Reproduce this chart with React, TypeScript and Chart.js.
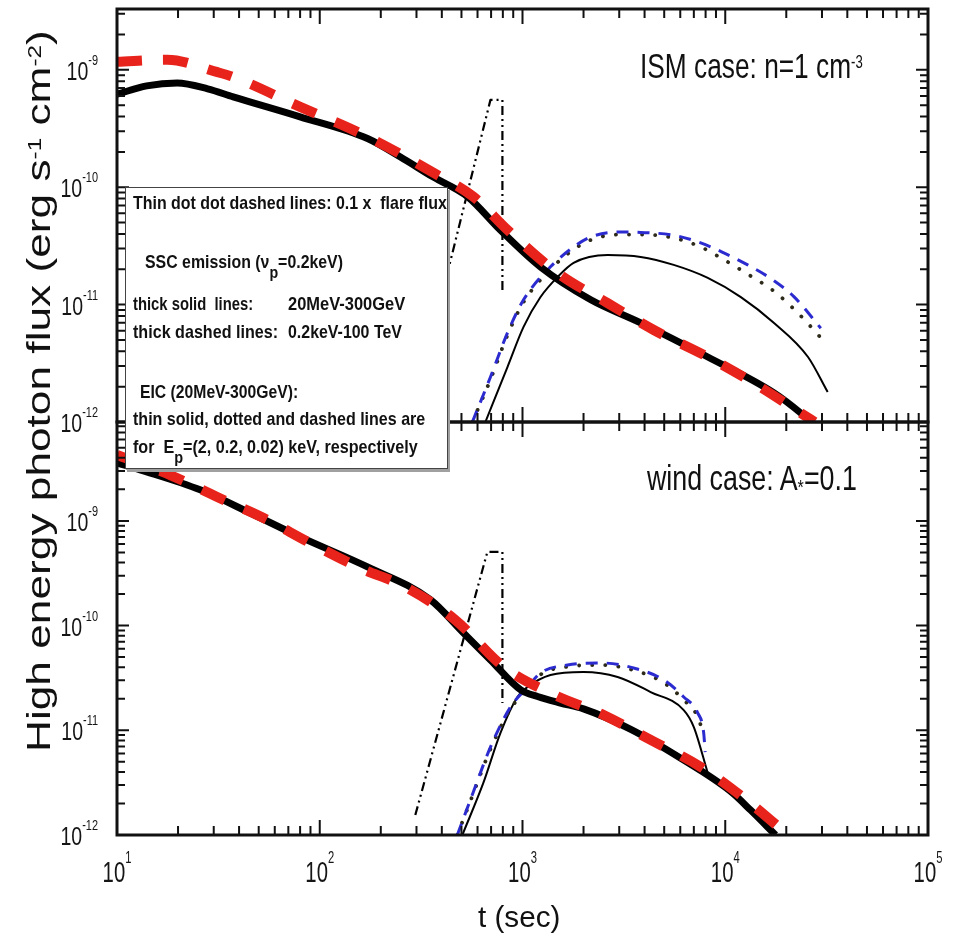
import React, { useEffect, useLayoutEffect, useRef } from 'react';
import { Chart, registerables } from 'chart.js';

Chart.register(...registerables);

const FONT = "'Liberation Sans', Arial, Helvetica, sans-serif";

// ---------- axis ranges / tick labels ----------
const X_MIN = 10;
const X_MAX = 1e5;
const Y_MIN = 1e-12;
const Y_MAX_ISM = 3.3e-9;
const Y_MAX_WIND = 8.8e-9;
const X_TICK_EXPONENTS = [1, 2, 3, 4, 5];
const Y_TICK_EXPONENTS = [-12, -11, -10, -9];

// ---------- ISM case (top panel) ----------
const ISM_SSC_SOLID_T = [10, 14, 19.8, 28, 37.4, 80, 172, 250, 363, 536, 779, 1227, 2170, 3828, 8200, 17400, 23600, 26400];
const ISM_SSC_SOLID_F = [6.2e-10, 7.3e-10, 7.74e-10, 6.9e-10, 5.89e-10, 3.98e-10, 2.6e-10, 1.81e-10, 1.22e-10, 8.3e-11, 4.3e-11, 2.09e-11, 1.1e-11, 6.98e-12, 3.58e-12, 1.77e-12, 1.19e-12, 1e-12];

const ISM_SSC_DASH_T = [10, 17.7, 31, 37.4, 80, 172, 363, 573, 843, 1490, 2630, 4440, 8200, 13800, 23600, 27600];
const ISM_SSC_DASH_F = [1.17e-9, 1.22e-9, 9.6e-10, 8.7e-10, 4.84e-10, 2.69e-10, 1.33e-10, 8.3e-11, 4.33e-11, 1.86e-11, 1.03e-11, 6.08e-12, 3.58e-12, 2.15e-12, 1.19e-12, 1e-12];

const ISM_EIC_2_T = [656, 843, 1012, 1227, 1490, 1786, 2630, 3828, 5570, 8200, 11940, 17400, 25600, 32000];
const ISM_EIC_2_F = [1e-12, 2.94e-12, 6.46e-12, 1.16e-11, 1.72e-11, 2.27e-11, 2.65e-11, 2.55e-11, 2.18e-11, 1.69e-11, 1.16e-11, 6.98e-12, 3.58e-12, 1.8e-12];

const ISM_EIC_02_T = [566, 695, 843, 1012, 1374, 1786, 2168, 2945, 3828, 5570, 7570, 9510, 13370, 17400, 22800, 31300];
const ISM_EIC_02_F = [1e-12, 2.3e-12, 5.5e-12, 1.05e-11, 2.0e-11, 2.95e-11, 3.55e-11, 3.95e-11, 3.95e-11, 3.7e-11, 3.1e-11, 2.5e-11, 1.75e-11, 1.3e-11, 8.5e-12, 4.7e-12];

const ISM_EIC_002_T = [566, 695, 843, 1012, 1374, 1786, 2168, 2945, 3828, 5570, 7570, 9840, 12900, 17400, 21800, 29600];
const ISM_EIC_002_F = [1e-12, 2.42e-12, 5.74e-12, 1.1e-11, 2.1e-11, 3.1e-11, 3.77e-11, 4.15e-11, 4.12e-11, 3.9e-11, 3.36e-11, 2.76e-11, 2.18e-11, 1.6e-11, 1.17e-11, 6.3e-12];

const ISM_FLARE_T = [280, 695, 796, 796];
const ISM_FLARE_F = [1e-12, 5.55e-10, 5.55e-10, 1.33e-11];

// ---------- wind case (bottom panel) ----------
const WIND_SSC_SOLID_T = [10, 13, 25.7, 45.4, 80, 172, 352, 512, 695, 980, 1187, 1537, 2000, 3420, 6035, 10650, 13370, 17700];
const WIND_SSC_SOLID_F = [3.58e-9, 3.07e-9, 1.98e-9, 1.19e-9, 7.03e-10, 3.63e-10, 1.76e-10, 8.5e-11, 4.7e-11, 2.43e-11, 2.1e-11, 1.82e-11, 1.6e-11, 1.02e-11, 5.4e-12, 2.6e-12, 1.72e-12, 1e-12];

const WIND_SSC_DASH_T = [10, 18.3, 31.2, 52.6, 89.7, 158, 264, 467, 808, 1422, 2512, 4285, 7570, 12700, 20400];
const WIND_SSC_DASH_F = [4.26e-9, 2.74e-9, 1.69e-9, 1.07e-9, 6.15e-10, 3.55e-10, 2.34e-10, 1.13e-10, 4.03e-11, 2.2e-11, 1.4e-11, 8.09e-12, 4.47e-12, 2.16e-12, 1e-12];

const WIND_EIC_2_T = [505, 641, 778, 944, 1059, 1374, 2000, 2945, 4285, 6240, 6990, 8200];
const WIND_EIC_2_F = [1e-12, 3.14e-12, 9.4e-12, 2.08e-11, 2.59e-11, 3.38e-11, 3.61e-11, 3.23e-11, 2.32e-11, 1.56e-11, 1.08e-11, 3.9e-12];

const WIND_EIC_02_T = [477, 553, 695, 873, 1059, 1227, 1668, 2427, 3530, 4970, 6240, 7310, 7830];
const WIND_EIC_02_F = [1e-12, 2.1e-12, 6.6e-12, 1.6e-11, 2.5e-11, 3.4e-11, 4.05e-11, 4.2e-11, 3.75e-11, 2.85e-11, 1.95e-11, 1.35e-11, 9e-12];

const WIND_EIC_002_T = [477, 553, 695, 873, 1059, 1227, 1668, 2427, 3530, 4970, 6240, 7310, 7830, 7960];
const WIND_EIC_002_F = [1e-12, 2.16e-12, 6.9e-12, 1.67e-11, 2.59e-11, 3.53e-11, 4.2e-11, 4.4e-11, 3.94e-11, 3.03e-11, 2.08e-11, 1.47e-11, 9.4e-12, 6.2e-12];

const WIND_FLARE_T = [296, 671, 796, 796];
const WIND_FLARE_F = [1.55e-12, 5.06e-10, 5.06e-10, 1.82e-11];

// ---------- helpers ----------
function zip(t: number[], f: number[]) {
  return t.map((x, i) => ({ x, y: f[i] }));
}

function line(data: { x: number; y: number }[], color: string, width: number, dash: number[], smooth = true, cap: CanvasLineCap = 'butt') {
  return {
    data,
    borderColor: color,
    borderWidth: width,
    borderDash: dash,
    borderCapStyle: cap,
    borderJoinStyle: 'round' as CanvasLineJoin,
    fill: false,
    pointRadius: 0,
    tension: 0,
    cubicInterpolationMode: smooth ? ('monotone' as const) : ('default' as const),
    clip: 0,
  };
}

function panelDatasets(
  sscT: number[], sscF: number[], dashT: number[], dashF: number[],
  e2T: number[], e2F: number[], e02T: number[], e02F: number[],
  e002T: number[], e002F: number[], flT: number[], flF: number[],
) {
  return [
    line(zip(dashT, dashF), '#e8231b', 10, [25, 21]),
    line(zip(sscT, sscF), '#000000', 7, []),
    line(zip(e002T, e002F), '#2b2bd0', 3, [12, 9]),
    line(zip(e02T, e02F), '#2e2a1a', 3.8, [0.1, 13], true, 'round'),
    line(zip(e2T, e2F), '#000000', 2, []),
    line(zip(flT, flF), '#000000', 2.2, [9, 4, 2, 4, 2, 4], false),
  ];
}

function drawPower(
  ctx: CanvasRenderingContext2D, exp: string, x: number, yBase: number,
  mode: 'right' | 'center', big: number, small: number, rise: number, sx: number,
) {
  const bigFont = `${big}px ${FONT}`;
  const smallFont = `${small}px ${FONT}`;
  ctx.font = bigFont;
  const w1 = ctx.measureText('10').width * sx;
  ctx.font = smallFont;
  const w2 = ctx.measureText(exp).width * sx;
  const left = mode === 'right' ? x - w1 - w2 : x - (w1 + w2) / 2;
  ctx.textAlign = 'left';
  ctx.textBaseline = 'alphabetic';
  ctx.fillStyle = '#151515';
  ctx.save();
  ctx.translate(left, yBase);
  ctx.scale(sx, 1);
  ctx.font = bigFont;
  ctx.fillText('10', 0, 0);
  ctx.restore();
  ctx.save();
  ctx.translate(left + w1, yBase - rise);
  ctx.scale(sx, 1);
  ctx.font = smallFont;
  ctx.fillText(exp, 0, 0);
  ctx.restore();
}

function framePlugin(showX: boolean) {
  return {
    id: 'frame',
    afterDraw(chart: any) {
      const { ctx, chartArea: a, scales } = chart;
      const xs = scales.x;
      const ys = scales.y;
      ctx.save();
      ctx.strokeStyle = '#111';
      ctx.lineWidth = 2;
      ctx.beginPath();
      for (let e = 1; e <= 5; e++) {
        for (let m = 1; m <= 9; m++) {
          const v = m * Math.pow(10, e);
          if (v > X_MAX * 1.0001) break;
          const px = xs.getPixelForValue(v);
          const len = m === 1 ? 15 : 9;
          ctx.moveTo(px, a.top);
          ctx.lineTo(px, a.top + len);
          ctx.moveTo(px, a.bottom);
          ctx.lineTo(px, a.bottom - len);
        }
      }
      for (let e = -12; e <= -8; e++) {
        for (let m = 1; m <= 9; m++) {
          const v = m * Math.pow(10, e);
          if (v > ys.max * 1.0001) break;
          const py = ys.getPixelForValue(v);
          const len = m === 1 ? 12 : 8;
          ctx.moveTo(a.left, py);
          ctx.lineTo(a.left + len, py);
          ctx.moveTo(a.right, py);
          ctx.lineTo(a.right - len, py);
        }
      }
      ctx.stroke();
      ctx.lineWidth = 3;
      ctx.strokeRect(a.left, a.top, a.right - a.left, a.bottom - a.top);

      for (const e of Y_TICK_EXPONENTS) {
        const py = ys.getPixelForValue(Math.pow(10, e));
        drawPower(ctx, String(e), 98, py + 10, 'right', 25, 14, 15, 0.78);
      }
      if (showX) {
        for (const e of X_TICK_EXPONENTS) {
          const px = xs.getPixelForValue(Math.pow(10, e));
          drawPower(ctx, String(e), px, a.bottom + 47, 'center', 29, 16, 19, 0.7);
        }
      }
      ctx.restore();
    },
  };
}

function Panel(props: { top: number; height: number; padTop: number; padBottom: number; yMax: number; showX: boolean; datasets: any[] }) {
  const ref = useRef<HTMLCanvasElement>(null);
  useEffect(() => {
    const chart = new Chart(ref.current as HTMLCanvasElement, {
      type: 'line',
      data: { datasets: props.datasets },
      options: {
        animation: false,
        responsive: false,
        maintainAspectRatio: false,
        events: [],
        layout: { padding: { left: 117, right: 33, top: props.padTop, bottom: props.padBottom } },
        plugins: { legend: { display: false }, tooltip: { enabled: false } },
        scales: {
          x: { type: 'logarithmic', min: X_MIN, max: X_MAX, display: false },
          y: { type: 'logarithmic', min: Y_MIN, max: props.yMax, display: false },
        },
        elements: { point: { radius: 0 } },
      } as any,
      plugins: [framePlugin(props.showX)],
    });
    return () => chart.destroy();
  }, []);
  return (
    <canvas
      ref={ref}
      width={961}
      height={props.height}
      style={{ position: 'absolute', left: 0, top: props.top, width: 961, height: props.height }}
    />
  );
}

function FitText(props: { left: number; baseline: number; size: number; width: number; bold?: boolean; children: React.ReactNode }) {
  const ref = useRef<HTMLSpanElement>(null);
  useLayoutEffect(() => {
    const el = ref.current;
    if (!el) return;
    const w = el.offsetWidth;
    if (w > 0) el.style.transform = `scaleX(${props.width / w})`;
  });
  return (
    <span
      ref={ref}
      style={{
        position: 'absolute',
        left: props.left,
        top: props.baseline - 0.8465 * props.size,
        fontFamily: FONT,
        fontSize: props.size,
        lineHeight: `${props.size}px`,
        fontWeight: props.bold ? 700 : 400,
        whiteSpace: 'pre',
        transformOrigin: '0 0',
        color: '#111',
      }}
    >
      {props.children}
    </span>
  );
}

function VText(props: { cx: number; cy: number; size: number; length: number; children: React.ReactNode }) {
  const ref = useRef<HTMLSpanElement>(null);
  useLayoutEffect(() => {
    const el = ref.current;
    if (!el) return;
    const w = el.offsetWidth;
    const h = el.offsetHeight;
    el.style.transform = `rotate(-90deg) scale(${props.length / w}, 1) translate(${-w / 2}px, ${-h / 2}px)`;
  });
  return (
    <span
      ref={ref}
      style={{
        position: 'absolute',
        left: props.cx,
        top: props.cy,
        fontFamily: FONT,
        fontSize: props.size,
        lineHeight: `${props.size}px`,
        whiteSpace: 'pre',
        transformOrigin: '0 0',
        color: '#111',
      }}
    >
      {props.children}
    </span>
  );
}

const sup = (s: string, size = '0.55em', top = '-0.5em') => (
  <span style={{ fontSize: size, position: 'relative', top, lineHeight: 0 }}>{s}</span>
);
const sub = (s: string, size = '0.85em', top = '0.5em') => (
  <span style={{ fontSize: size, position: 'relative', top, lineHeight: 0 }}>{s}</span>
);

export default function App() {
  const ismSets = panelDatasets(
    ISM_SSC_SOLID_T, ISM_SSC_SOLID_F, ISM_SSC_DASH_T, ISM_SSC_DASH_F,
    ISM_EIC_2_T, ISM_EIC_2_F, ISM_EIC_02_T, ISM_EIC_02_F,
    ISM_EIC_002_T, ISM_EIC_002_F, ISM_FLARE_T, ISM_FLARE_F,
  );
  const windSets = panelDatasets(
    WIND_SSC_SOLID_T, WIND_SSC_SOLID_F, WIND_SSC_DASH_T, WIND_SSC_DASH_F,
    WIND_EIC_2_T, WIND_EIC_2_F, WIND_EIC_02_T, WIND_EIC_02_F,
    WIND_EIC_002_T, WIND_EIC_002_F, WIND_FLARE_T, WIND_FLARE_F,
  );
  return (
    <div style={{ position: 'absolute', left: 0, top: 0, width: 961, height: 934, background: '#fff', overflow: 'hidden' }}>
      <Panel top={0} height={440} padTop={9} padBottom={18} yMax={Y_MAX_ISM} showX={false} datasets={ismSets} />
      <Panel top={400} height={534} padTop={22} padBottom={99} yMax={Y_MAX_WIND} showX={true} datasets={windSets} />

      <FitText left={640} baseline={78} size={35} width={223}>
        ISM case: n=1 cm{sup('-3', '0.5em', '-0.6em')}
      </FitText>
      <FitText left={647} baseline={490} size={35} width={210}>
        wind case: A{sub('*', '0.6em', '0.15em')}=0.1
      </FitText>
      <FitText left={478} baseline={927} size={30} width={82}>
        t (sec)
      </FitText>
      <VText cx={38} cy={391} size={34} length={722}>
        High energy photon flux (erg s{sup('-1')} cm{sup('-2')})
      </VText>

      <div
        style={{
          position: 'absolute', left: 125, top: 187, width: 323, height: 282,
          background: '#fff', border: '1.5px solid #444', boxSizing: 'border-box',
          boxShadow: '2px 3px 0 #a0a0a0',
        }}
      />
      <FitText left={133} baseline={209} size={19} width={314} bold>
        Thin dot dot dashed lines: 0.1 x  flare flux
      </FitText>
      <FitText left={145} baseline={268} size={19} width={198} bold>
        SSC emission (ν{sub('p', '0.9em', '0.6em')}=0.2keV)
      </FitText>
      <FitText left={133} baseline={310} size={19} width={120} bold>
        thick solid  lines:
      </FitText>
      <FitText left={288} baseline={310} size={19} width={117} bold>
        20MeV-300GeV
      </FitText>
      <FitText left={133} baseline={338} size={19} width={145} bold>
        thick dashed lines:
      </FitText>
      <FitText left={288} baseline={338} size={19} width={114} bold>
        0.2keV-100 TeV
      </FitText>
      <FitText left={140} baseline={398} size={19} width={158} bold>
        EIC (20MeV-300GeV):
      </FitText>
      <FitText left={133} baseline={425} size={19} width={292} bold>
        thin solid, dotted and dashed lines are
      </FitText>
      <FitText left={133} baseline={453} size={19} width={285} bold>
        for  E{sub('p', '0.9em', '0.6em')}=(2, 0.2, 0.02) keV, respectively
      </FitText>
    </div>
  );
}
